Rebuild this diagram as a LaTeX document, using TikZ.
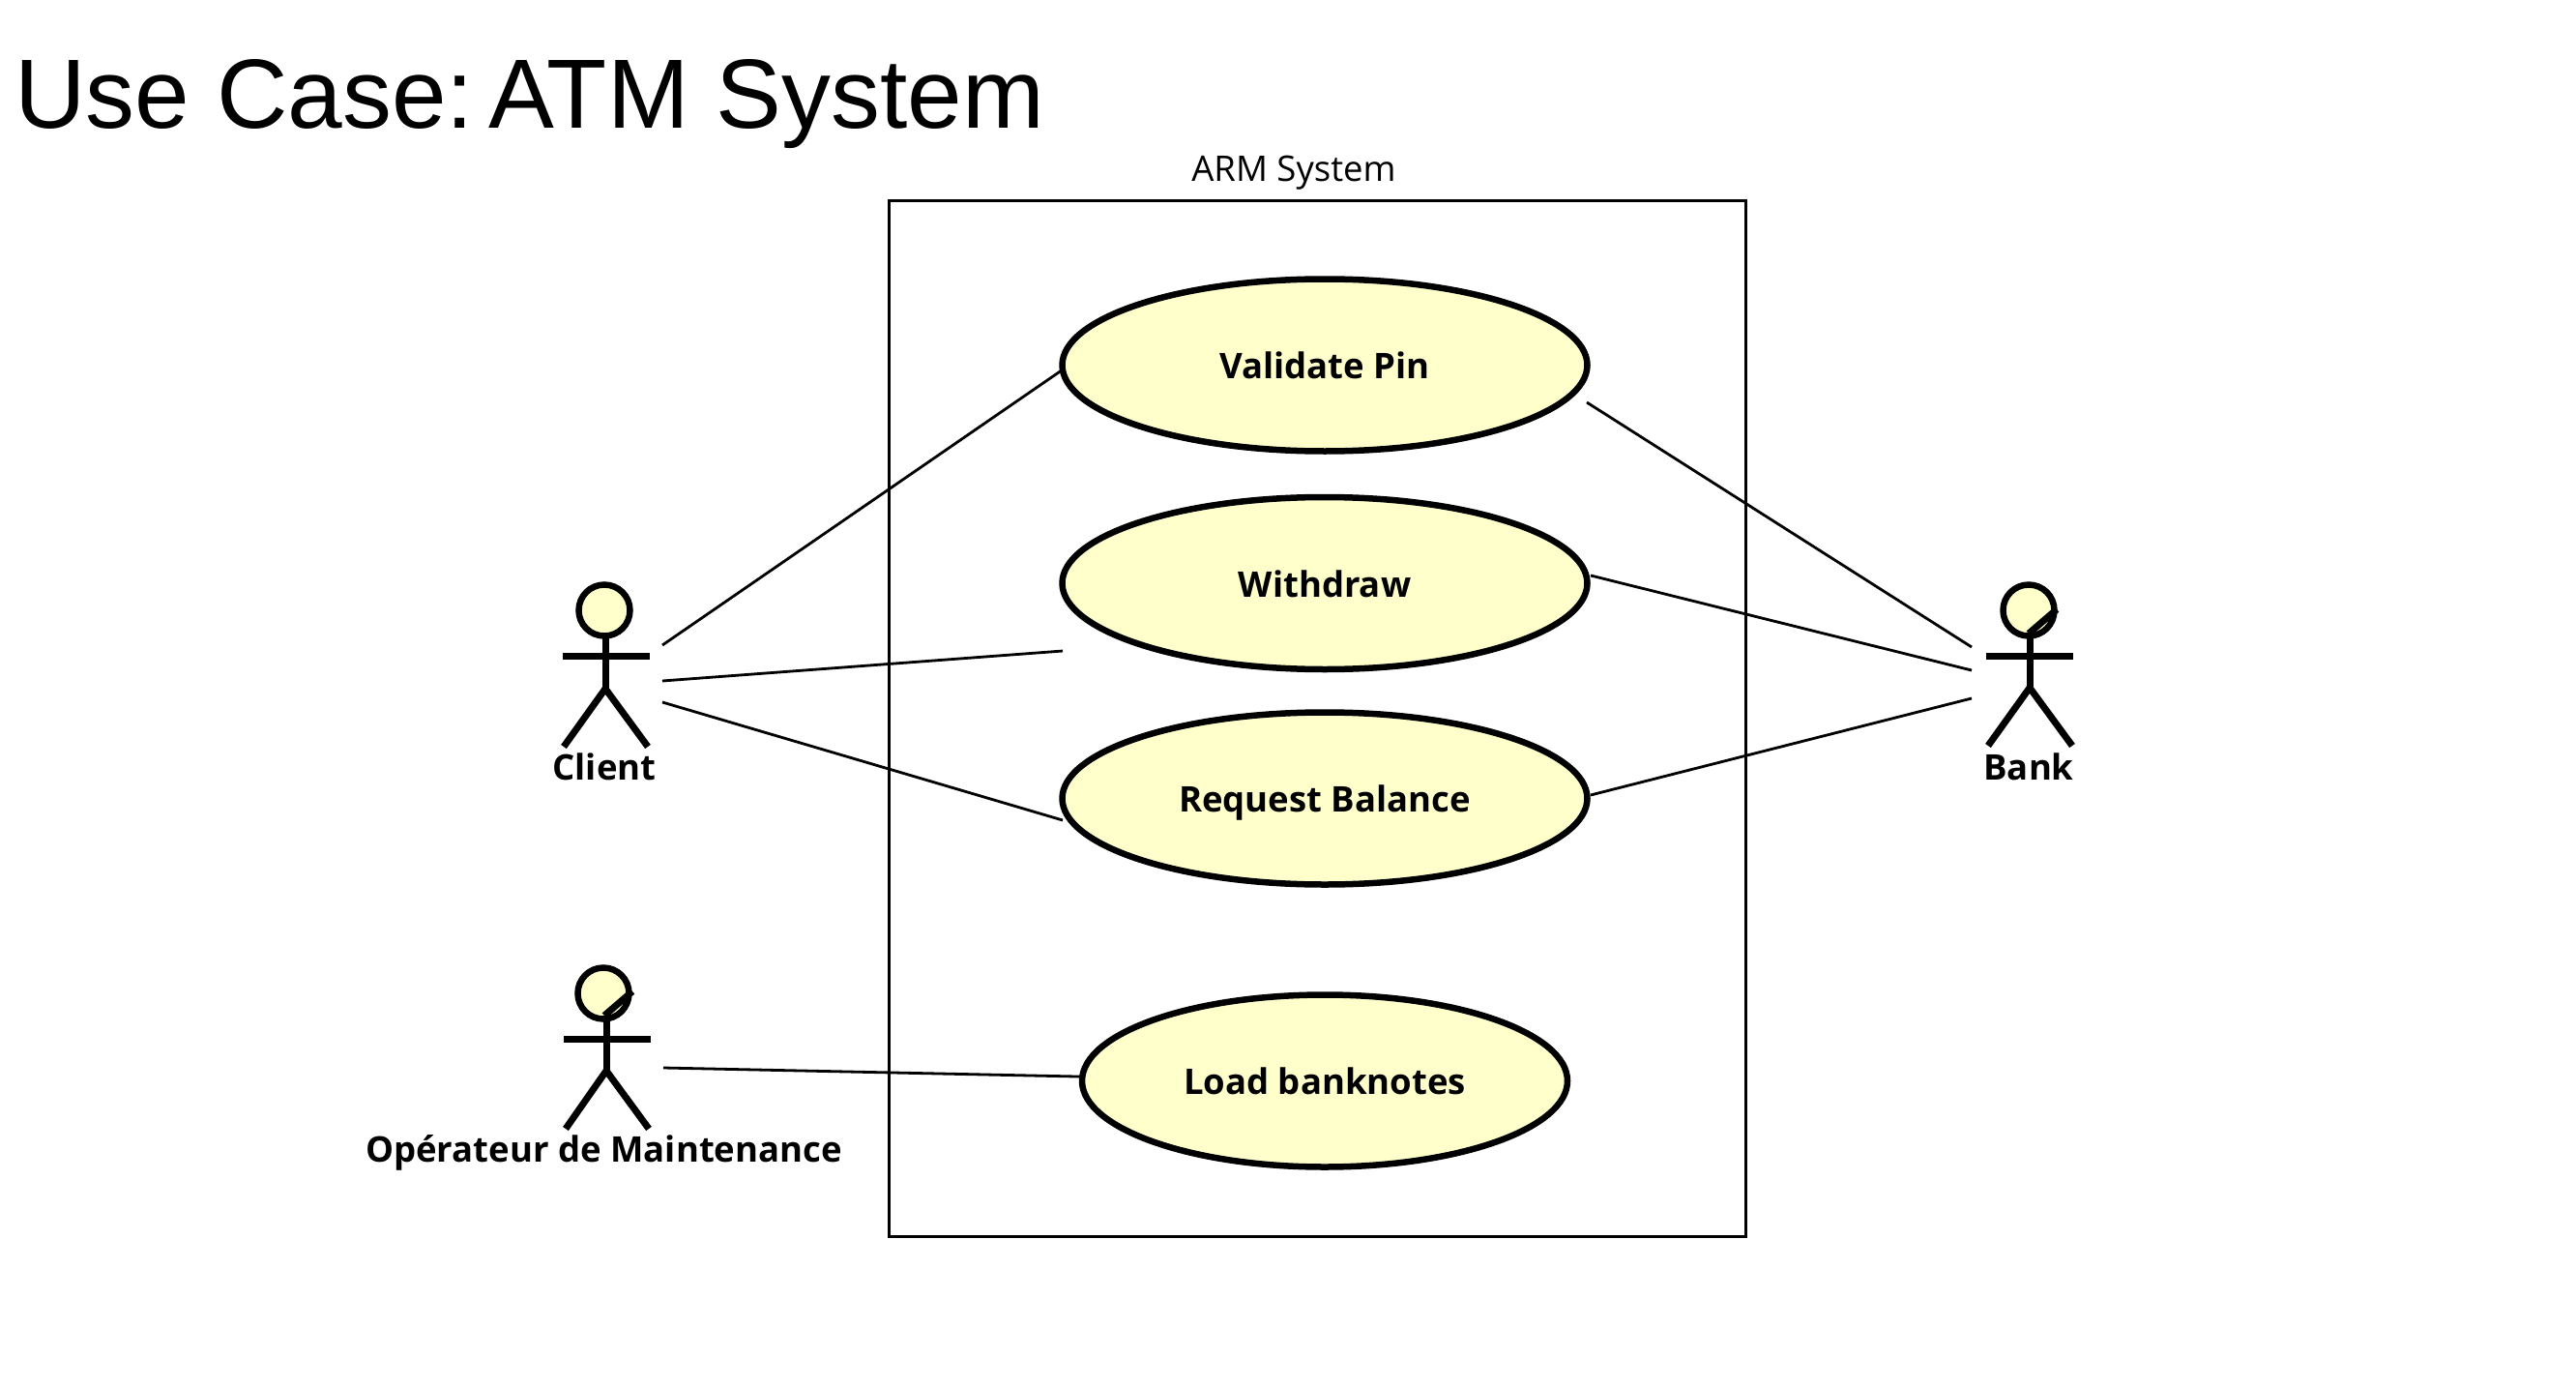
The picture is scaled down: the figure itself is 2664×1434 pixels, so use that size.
\documentclass[tikz,border=0pt]{standalone}
\usepackage{fontspec}
\setmainfont{Open Sans}
\newfontfamily\titlefont{Liberation Sans}
\usetikzlibrary{shapes.geometric}
\tikzset{
  usecase/.style={ellipse,draw=black,fill=ucfill,line width=6.5pt,inner sep=0pt,outer sep=0pt,text height=28pt,text depth=0pt,font=\fontsize{36.5}{36.5}\selectfont\bfseries},
  actorhead/.style={circle,draw=black,fill=ucfill,line width=6.5pt,minimum size=53pt,inner sep=0pt,outer sep=0pt},
  actorline/.style={draw=black,line width=7pt},
  assoc/.style={draw=black,line width=2.8pt},
  actorlabel/.style={anchor=base,inner sep=0pt,font=\fontsize{36.5}{36.5}\selectfont\bfseries},
}
\definecolor{ucfill}{HTML}{FFFFCC}
\begin{document}
\begin{tikzpicture}[x=1pt,y=-1pt]
\useasboundingbox (0,0) rectangle (2664,1434);
\node[anchor=base west,inner sep=0pt,font=\titlefont\fontsize{101.7}{101.7}\selectfont] (title) at (15,133) {Use Case:\hspace{-22pt} ATM System};
\node[draw=black,line width=3pt,minimum width=886pt,minimum height=1071pt,inner sep=0pt,outer sep=0pt,anchor=north west] (system) at (919.5,207.5) {};
\node[anchor=base,inner sep=0pt,font=\fontsize{36.5}{36.5}\selectfont] (systemlabel) at (1338,188) {ARM System};
% use cases
\node[usecase,minimum width=543pt,minimum height=178pt] (validate) at (1370,377.5) {Validate Pin};
\node[usecase,minimum width=543pt,minimum height=178pt] (withdraw) at (1370,603) {Withdraw};
\node[usecase,minimum width=543pt,minimum height=178pt] (request) at (1370,825.5) {Request Balance};
\node[usecase,minimum width=502pt,minimum height=178pt] (load) at (1370,1117.5) {Load banknotes};
% actors
\node[actorhead] (client) at (625,631) {};
\draw[actorline] (626,657) -- (626,712) coordinate (clientbody);
\draw[actorline] (582,678) -- (672,678);
\draw[actorline] (583,772) -- (clientbody) -- (670,772);
\node[actorlabel] (clientlabel) at (625,806.5) {Client};

\node[actorhead] (bank) at (2098,631) {};
\draw[actorline] (2099,657) -- (2099,711) coordinate (bankbody);
\draw[actorline] (2054,678) -- (2144,678);
\draw[actorline] (2056,771) -- (bankbody) -- (2143,771);
\draw[actorline] (2098,655) -- (2127,630);
\node[actorlabel] (banklabel) at (2098,806.5) {Bank};

\node[actorhead] (operator) at (624,1027) {};
\draw[actorline] (627,1053) -- (627,1107) coordinate (operatorbody);
\draw[actorline] (583,1074) -- (673,1074);
\draw[actorline] (585,1167) -- (operatorbody) -- (671,1167);
\draw[actorline] (625,1050) -- (654,1025);
\node[actorlabel] (operatorlabel) at (624.5,1201.5) {Opérateur de Maintenance};
% connector ends
\coordinate (c1) at (685,667);
\coordinate (c2) at (685,704);
\coordinate (c3) at (685,726);
\coordinate (o1) at (686,1104);
\coordinate (b1) at (2039,669);
\coordinate (b2) at (2039,693);
\coordinate (b3) at (2039,722);
\coordinate (withdrawfree) at (1099,673);
\coordinate (validatefree) at (1641,416);
\coordinate (requestleft) at (1099,848);
\coordinate (withdrawright) at (1645,595);
\coordinate (requestright) at (1645,822);
\draw[assoc] (c1) -- (validate.181.5);
\draw[assoc] (c2) -- (withdrawfree);
\draw[assoc] (c3) -- (requestleft);
\draw[assoc] (o1) -- (load.179);
\draw[assoc] (validatefree) -- (b1);
\draw[assoc] (withdrawright) -- (b2);
\draw[assoc] (requestright) -- (b3);
\end{tikzpicture}
\end{document}
